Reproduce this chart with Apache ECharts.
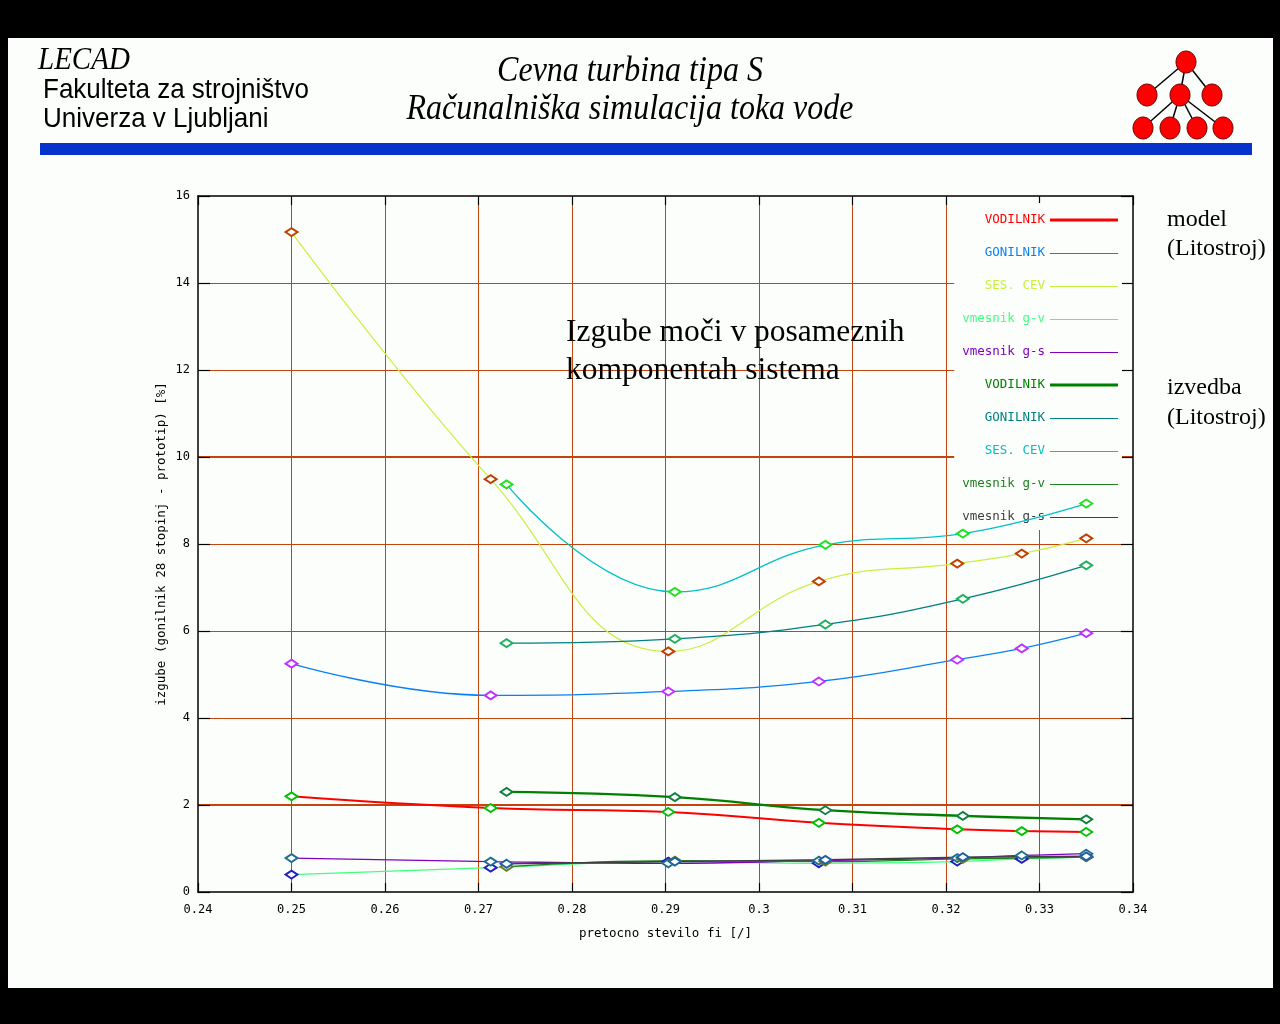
<!DOCTYPE html>
<html><head><meta charset="utf-8">
<script src="https://cdn.jsdelivr.net/npm/echarts@6/dist/echarts.min.js"></script>
<style>
html,body{margin:0;padding:0;background:#000;width:1280px;height:1024px;overflow:hidden}
#panel{position:absolute;left:8px;top:38px;width:1265px;height:950px;background:#fcfefc}
#chart{position:absolute;left:0;top:0;width:1280px;height:1024px}
</style></head><body>
<div id="panel"></div><div id="chart"></div>
<script>
// ---- data ----
const xModel   = [0.25, 0.2713, 0.2903, 0.3064, 0.3212, 0.3281, 0.335];
const xIzvedba = [0.273, 0.291, 0.3071, 0.3218, 0.335];

const modelVodilnik  = [2.20, 1.93, 1.84, 1.59, 1.44, 1.40, 1.38];
const modelGonilnik  = [5.25, 4.52, 4.61, 4.84, 5.34, 5.60, 5.95];
const modelSesCev    = [15.17, 9.49, 5.53, 7.14, 7.55, 7.78, 8.13];
const modelVmesGV    = [0.40, 0.56, 0.70, 0.66, 0.70, 0.76, 0.80];
const modelVmesGS    = [0.78, 0.70, 0.66, 0.72, 0.78, 0.84, 0.88];

const izvVodilnik = [2.30, 2.18, 1.88, 1.75, 1.67];
const izvGonilnik = [5.72, 5.82, 6.15, 6.74, 7.51];
const izvSesCev   = [9.37, 6.90, 7.98, 8.24, 8.93];
const izvVmesGV   = [0.58, 0.72, 0.70, 0.76, 0.80];
const izvVmesGS   = [0.65, 0.70, 0.74, 0.80, 0.82];

const legendLabels = ['VODILNIK','GONILNIK','SES. CEV','vmesnik g-v','vmesnik g-s',
                      'VODILNIK','GONILNIK','SES. CEV','vmesnik g-v','vmesnik g-s'];
const xRange = [0.24, 0.34], xStep = 0.01;
const yRange = [0, 16], yStep = 2;
const thickGridY = [2, 10];

// ---- styles ----
const GRID_C = '#c44410';
const MONO = '"DejaVu Sans Mono", monospace';
const defs = [
  {xs:xModel, ys:modelVodilnik, line:'#ff0000', text:'#ff0000', mark:'#00c000', w:2},
  {xs:xModel, ys:modelGonilnik, line:'#0a80f0', text:'#0a80f0', mark:'#c030ff', w:1.3},
  {xs:xModel, ys:modelSesCev,   line:'#c8f040', text:'#c8f040', mark:'#c04000', w:1.2},
  {xs:xModel, ys:modelVmesGV,   line:'#40ff80', text:'#40ff80', mark:'#2020c0', w:1.3},
  {xs:xModel, ys:modelVmesGS,   line:'#8000c0', text:'#8000c0', mark:'#206f8f', w:1.3},
  {xs:xIzvedba, ys:izvVodilnik, line:'#008000', text:'#008000', mark:'#108040', w:2.3},
  {xs:xIzvedba, ys:izvGonilnik, line:'#008080', text:'#008080', mark:'#20b060', w:1.3},
  {xs:xIzvedba, ys:izvSesCev,   line:'#00c0c8', text:'#00c0c8', mark:'#20e020', w:1.3},
  {xs:xIzvedba, ys:izvVmesGV,   line:'#208020', text:'#208020', mark:'#608020', w:1.3},
  {xs:xIzvedba, ys:izvVmesGS,   line:'#404040', text:'#404040', mark:'#2060a0', w:1.5}
];
defs.forEach((d,i)=>{ d.id = (i<5?'model ':'izvedba ') + legendLabels[i]; d.label = legendLabels[i]; });
const labelById = {}; defs.forEach(d=>labelById[d.id]=d.label);

const series = defs.map((d,i)=>({
  type:'line', name:d.id,
  data:d.xs.map((x,k)=>[x, d.ys[k]]),
  smooth:0.45, symbol:'emptyDiamond', symbolSize:[12,8], showAllSymbol:true,
  lineStyle:{color:d.line, width:d.w},
  itemStyle:{color:d.mark, borderWidth:1.3},
  emphasis:{disabled:true}, z:2, animation:false,
  markLine: i===0 ? {silent:true, symbol:'none', z:0, animation:false,
    label:{show:false}, lineStyle:{color:GRID_C, width:2.2, type:'solid'},
    emphasis:{disabled:true},
    data: thickGridY.map(v=>({yAxis:v}))} : undefined
}));

const axisFont = {color:'#000', fontFamily:MONO, fontSize:12};
function xAx(pos, main){
  return {type:'value', position:pos, min:xRange[0], max:xRange[1], interval:xStep,
    axisLine:{show:true, onZero:false, lineStyle:{color:'#000', width:1.5}},
    axisTick:{show:true, inside:true, length:9, lineStyle:{color:'#000', width:1.2}},
    axisLabel: main ? Object.assign({margin:12}, axisFont) : {show:false},
    splitLine: main ? {show:true, showMinLine:false, showMaxLine:false, lineStyle:{color:GRID_C, width:1}} : {show:false},
    name: main ? 'pretocno stevilo fi [/]' : '', nameLocation:'middle', nameGap:35, nameMoveOverlap:false,
    nameTextStyle:{color:'#000', fontFamily:MONO, fontSize:12.5}};
}
function yAx(pos, main){
  return {type:'value', position:pos, min:yRange[0], max:yRange[1], interval:yStep,
    axisLine:{show:true, onZero:false, lineStyle:{color:'#000', width:1.5}},
    axisTick:{show:true, inside:true, length:12, lineStyle:{color:'#000', width:1.2}},
    axisLabel: main ? Object.assign({margin:8}, axisFont) : {show:false},
    splitLine: main ? {show:true, showMinLine:false, showMaxLine:false, lineStyle:{color:GRID_C, width:1}} : {show:false},
    name: main ? 'izgube (gonilnik 28 stopinj - prototip) [%]' : '', nameLocation:'middle', nameGap:30, nameMoveOverlap:false,
    nameTextStyle:{color:'#000', fontFamily:MONO, fontSize:12.5}};
}

const serif = '"Liberation Serif", "Times New Roman", serif';
const sans = '"Liberation Sans", Arial, sans-serif';
const logoNodes = {t:[1186,62], ml:[1147,95], mc:[1180,95], mr:[1212,95],
  b1:[1143,128], b2:[1170,128], b3:[1197,128], b4:[1223,128]};
const logoEdges = [['t','ml'],['t','mc'],['t','mr'],['mc','b1'],['mc','b2'],['mc','b3'],['mc','b4']];

function txt(x, y, text, font, align, sy){
  return {type:'text', x, y, scaleY: sy || 1, z:10,
    style:{text, font, fill:'#000', align: align || 'left', verticalAlign:'middle'}};
}
const graphic = [
  {type:'rect', shape:{x:40, y:143, width:1212, height:12}, style:{fill:'#0633cc'}},
  txt(38, 61, 'LECAD', 'italic 29px '+serif, 'left', 1.1),
  txt(43, 90, 'Fakulteta za strojništvo', '26px '+sans, 'left', 1.08),
  txt(43, 119, 'Univerza v Ljubljani', '26px '+sans, 'left', 1.08),
  txt(630, 71, 'Cevna turbina tipa S', 'italic 32px '+serif, 'center', 1.15),
  txt(630, 109, 'Računalniška simulacija toka vode', 'italic 32px '+serif, 'center', 1.15),
  txt(566, 333, 'Izgube moči v posameznih', '31.5px '+serif),
  txt(566, 371, 'komponentah sistema', '31.5px '+serif),
  txt(1167, 220, 'model', '24px '+serif),
  txt(1167, 249, '(Litostroj)', '24px '+serif),
  txt(1167, 388, 'izvedba', '24px '+serif),
  txt(1167, 418, '(Litostroj)', '24px '+serif)
];
logoEdges.forEach(([a,b])=>graphic.push({type:'line', shape:{x1:logoNodes[a][0], y1:logoNodes[a][1], x2:logoNodes[b][0], y2:logoNodes[b][1]}, style:{stroke:'#000', lineWidth:1.5}}));
Object.values(logoNodes).forEach(([cx,cy])=>graphic.push({type:'ellipse', shape:{cx, cy, rx:10, ry:11}, style:{fill:'#ff0000', stroke:'#700000', lineWidth:1}}));

const chart = echarts.init(document.getElementById('chart'), null, {renderer:'canvas'});
chart.setOption({
  backgroundColor:'transparent',
  animation:false,
  grid:{left:198, right:147, top:196, bottom:132, containLabel:false},
  xAxis:[xAx('bottom', true), xAx('top', false)],
  yAxis:[yAx('left', true), yAx('right', false)],
  legend:{
    orient:'vertical', right:158, top:203, align:'right', z:1,
    backgroundColor:'#fcfefc', padding:[10,4,6,8],
    itemWidth:68, itemHeight:3, itemGap:19, selectedMode:false,
    itemStyle:{borderWidth:0},
    textStyle:{fontFamily:MONO, fontSize:12.5, lineHeight:14},
    formatter: n => labelById[n],
    data: defs.map(d=>({name:d.id, icon: d.w>=2 ? 'rect' : 'path://M0,0M0,1H70V2H0Z',
      itemStyle:{color:d.line, borderWidth:0}, textStyle:{color:d.text}}))
  },
  graphic: graphic,
  series: series
});
</script>
</body></html>
